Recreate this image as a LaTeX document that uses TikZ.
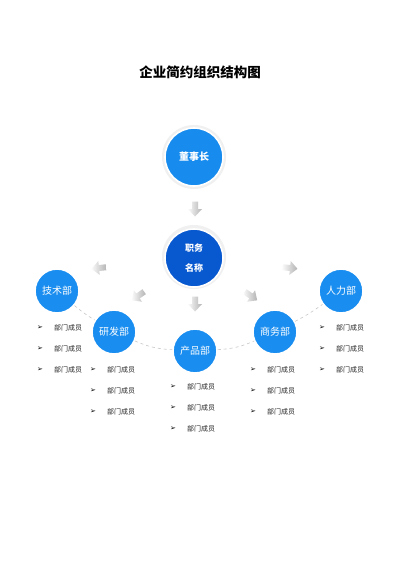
\documentclass[tikz,border=0pt]{standalone}
\usepackage{fontspec}
\setmainfont{Noto Sans CJK SC}
\newfontfamily\symfont{DejaVu Sans}
\usetikzlibrary{shadings}
\definecolor{deptblue}{RGB}{26,142,240}
\definecolor{topblue}{RGB}{24,140,238}
\definecolor{midblue}{RGB}{8,88,208}
\definecolor{linegray}{RGB}{200,200,200}
\tikzset{
  ring/.style={circle, fill=#1, draw=white, line width=1.6pt, inner sep=0pt},
  halo/.style={circle, fill=gray!12, inner sep=0pt},
  dept/.style={ring=deptblue, minimum size=44pt, text=white, font=\fontsize{10}{10}\selectfont},
  member/.style={anchor=west, inner sep=0pt, font=\fontsize{7}{7}\selectfont, text=black!85},
  bul/.style={inner sep=0pt, font=\symfont\fontsize{7}{7}\selectfont, text=black},
  arc/.style={draw=linegray, dashed, line width=0.6pt},
  pics/garrow/.style={code={
    \shade[left color=gray!4, right color=gray!60]
      (-7.5,-3) -- (0,-3) -- (0,-7) -- (7.5,0) -- (0,7) -- (0,3) -- (-7.5,3) -- cycle;
  }}
}
\begin{document}
\begin{tikzpicture}[x=1pt,y=-1pt]
\fill[white] (0,0) rectangle (400,565);
\useasboundingbox (0,0) rectangle (400,565);

\node (title) at (200,72) {\fontsize{13.5}{14}\selectfont\bfseries 企业简约组织结构图};

% top levels
\node[halo, minimum size=64pt] at (194,157) {};
\node[ring=topblue, minimum size=58pt, text=white, font=\fontsize{10}{10}\selectfont\bfseries] (chair) at (194,157) {董事长};
\node[halo, minimum size=64pt] at (194,257) {};
\node[ring=midblue, minimum size=58pt, text=white, font=\fontsize{9}{20}\selectfont\bfseries, align=center] (post) at (194,258) {职务\\名称};

% gray arrows
\pic[rotate=-90] at (195,209) {garrow};
\pic[rotate=186] at (99,268) {garrow};
\pic[rotate=215] at (138,296) {garrow};
\pic[rotate=-90] at (195,304) {garrow};
\pic[rotate=-35] at (251,296) {garrow};
\pic[rotate=-6] at (290,268) {garrow};

% departments
\node[dept] (d1) at (57,291) {技术部};
\node[dept] (d2) at (114,332) {研发部};
\node[dept] (d3) at (195,351) {产品部};
\node[dept] (d4) at (275,332) {商务部};
\node[dept] (d5) at (341,291) {人力部};

\draw[arc] (d1) to[bend right=4] (d2);
\draw[arc] (d2) to[bend right=10] (d3);
\draw[arc] (d3) to[bend right=10] (d4);
\draw[arc] (d4) to[bend right=4] (d5);

% members
\foreach \n/\x/\y in {a/40/328, b/93/370, c/173/387, d/253/370, e/322/328}{
  \foreach \k in {0,1,2}{
    \node[bul] (b\n\k) at (\x,\y+\k*21) {➢};
    \node[member] (m\n\k) at (\x+14,\y+\k*21) {部门成员};
  }
}
\end{tikzpicture}
\end{document}
